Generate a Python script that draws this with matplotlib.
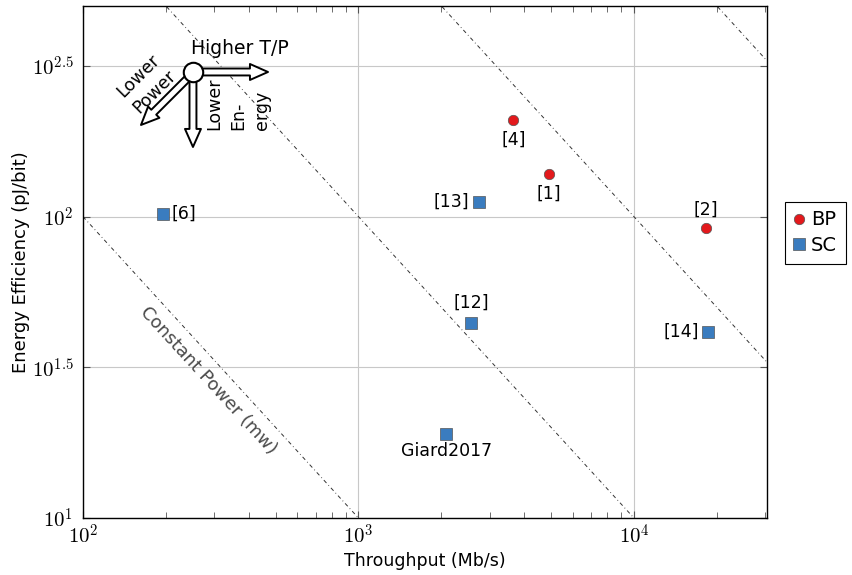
import numpy as np
import matplotlib
matplotlib.use("Agg")
import matplotlib.pyplot as plt

plt.rcParams["font.family"] = ["DejaVu Sans"]
plt.rcParams["mathtext.fontset"] = "cm"

# throughput (Mb/s) and energy efficiency (pJ/bit)
bp_names = ["[4]", "[1]", "[2]"]
bp_tp = [3650, 4900, 18200]
bp_eff = [210, 138, 92]

sc_names = ["[6]", "[13]", "[12]", "[14]", "Giard2017"]
sc_tp = [195, 2730, 2570, 18500, 2085]
sc_eff = [102, 112, 44.5, 41.5, 19.0]

# constant power iso-lines (throughput x energy per bit)
power_levels = [1e4, 1e5, 1e6, 1e7]

xlim = (1e2, 3.04e4)
ylim = (10, 500)

fig = plt.figure(figsize=(8.52, 5.75), dpi=100)
ax = fig.add_axes([0.0974, 0.0991, 0.8028, 0.8905])
ax.set_xscale("log")
ax.set_yscale("log")
ax.set_xlim(*xlim)
ax.set_ylim(*ylim)

xs = np.array(xlim)
for p in power_levels:
    ax.plot(xs, p / xs, color="#333333", lw=0.7, ls=(0, (4, 3, 0.8, 3)), zorder=1)

ax.plot(bp_tp, bp_eff, "o", ms=7.5, color="#e3191c", mec="#555555", mew=0.5,
        label="BP", zorder=3)
ax.plot(sc_tp, sc_eff, "s", ms=8, color="#3a7cbf", mec="#555555", mew=0.5,
        label="SC", zorder=3)

# point labels: (dx, dy) offsets in points and horizontal alignment
bp_off = [(0, -14.5, "center"), (0, -14, "center"), (0, 13, "center")]
sc_off = [(6.5, 0, "left"), (-6.5, 0, "right"), (0, 14, "center"),
          (-6.5, 0, "right"), (0, -12, "center")]
for name, x, y, (dx, dy, ha) in zip(bp_names, bp_tp, bp_eff, bp_off):
    ax.annotate(name, (x, y), xytext=(dx, dy), textcoords="offset points",
                ha=ha, va="center", fontsize=12.5)
for name, x, y, (dx, dy, ha) in zip(sc_names, sc_tp, sc_eff, sc_off):
    ax.annotate(name, (x, y), xytext=(dx, dy), textcoords="offset points",
                ha=ha, va="center", fontsize=12.5)

ax.text(0.1827, 0.2695, "Constant Power (mw)", transform=ax.transAxes,
        rotation=-47.5, rotation_mode="anchor", ha="center", va="center",
        fontsize=13, color="#4a4a4a")

# direction key in the upper left corner
arrow = dict(arrowstyle="simple,head_length=1.3,head_width=1.15,tail_width=0.5",
             fc="white", ec="black", lw=1.4, shrinkA=0, shrinkB=0)
for tail, head in [((0.1740, 0.8711), (0.2705, 0.8711)),
                   ((0.1608, 0.8535), (0.1608, 0.7246)),
                   ((0.1520, 0.8574), (0.0848, 0.7676))]:
    ax.annotate("", xy=head, xytext=tail, xycoords="axes fraction",
                textcoords="axes fraction", arrowprops=arrow, zorder=4)
ax.plot([0.1608], [0.8711], "o", ms=14, mfc="white", mec="black", mew=1.5,
        transform=ax.transAxes, zorder=5, clip_on=False)
ax.text(0.2295, 0.916, "Higher T/P", transform=ax.transAxes, ha="center",
        va="center", fontsize=13.5)
ax.text(0.093, 0.848, "Lower\nPower", transform=ax.transAxes, ha="center",
        va="center", rotation=45, fontsize=12.5, multialignment="center",
        linespacing=1.35)
ax.text(0.2266, 0.8086, "Lower\nEn-\nergy", transform=ax.transAxes,
        ha="center", va="center", rotation=90, fontsize=12.5, linespacing=1.4,
        multialignment="left")

ax.set_xticks([1e2, 1e3, 1e4])
ax.set_xticklabels([r"$10^{2}$", r"$10^{3}$", r"$10^{4}$"])
ax.set_yticks([10 ** 1, 10 ** 1.5, 10 ** 2, 10 ** 2.5])
ax.set_yticklabels([r"$10^{1}$", r"$10^{1.5}$", r"$10^{2}$", r"$10^{2.5}$"])
ax.yaxis.set_minor_locator(matplotlib.ticker.NullLocator())
ax.tick_params(which="both", direction="in", top=True, right=True,
               color="#555555", labelsize=15)
ax.tick_params(which="major", length=5, width=0.8)
ax.tick_params(which="minor", length=4.5, width=0.6)
ax.tick_params(axis="x", pad=4)
ax.tick_params(axis="y", pad=7)
ax.grid(True, which="major", color="#c8c8c8", lw=0.8)
ax.set_axisbelow(True)
for s in ax.spines.values():
    s.set_linewidth(1.0)
    s.set_color("black")

ax.set_xlabel("Throughput (Mb/s)", fontsize=12.5, labelpad=3)
ax.set_ylabel("Energy Efficiency (pJ/bit)", fontsize=13, labelpad=1)

leg = ax.legend(loc="center left", bbox_to_anchor=(1.026, 0.557),
                borderaxespad=0, fancybox=False, edgecolor="black",
                fontsize=14, handlelength=0.6, handletextpad=0.3,
                borderpad=0.45, labelspacing=0.35, framealpha=1)
leg.get_frame().set_linewidth(0.8)

fig.savefig("out.png", dpi=100)
